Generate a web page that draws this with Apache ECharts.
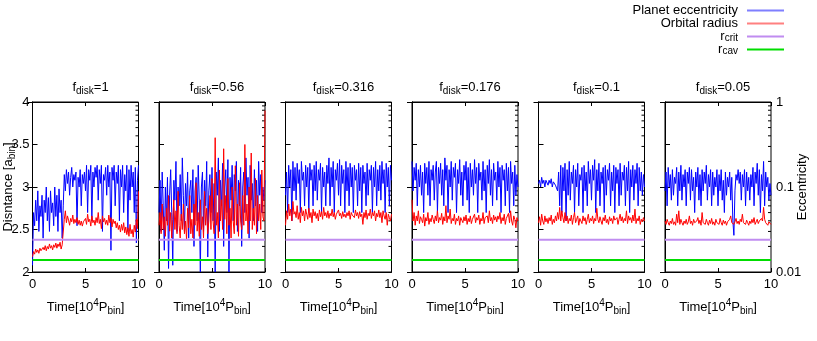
<!DOCTYPE html>
<html>
<head>
<meta charset="utf-8">
<script src="https://cdn.jsdelivr.net/npm/echarts@6/dist/echarts.min.js"></script>
<style>html,body{margin:0;padding:0;background:#fff;}#c{width:817px;height:341px;}</style>
</head>
<body>
<div id="c"></div>
<script>
// ---- data ----
const time = [0,0.1,0.2,0.3,0.4,0.5,0.6,0.7,0.8,0.9,1,1.1,1.2,1.3,1.4,1.5,1.6,1.7,1.8,1.9,2,2.1,2.2,2.3,2.4,2.5,2.6,2.7,2.8,2.9,3,3.1,3.2,3.3,3.4,3.5,3.6,3.7,3.8,3.9,4,4.1,4.2,4.3,4.4,4.5,4.6,4.7,4.8,4.9,5,5.1,5.2,5.3,5.4,5.5,5.6,5.7,5.8,5.9,6,6.1,6.2,6.3,6.4,6.5,6.6,6.7,6.8,6.9,7,7.1,7.2,7.3,7.4,7.5,7.6,7.7,7.8,7.9,8,8.1,8.2,8.3,8.4,8.5,8.6,8.7,8.8,8.9,9,9.1,9.2,9.3,9.4,9.5,9.6,9.7,9.8,9.9,10];
const fdisk = ['1','0.56','0.316','0.176','0.1','0.05'];
const xTicks = [0,5,10];
const rCrit = 2.38;
const rCav = 2.14;
const logMinor = [0.02,0.03,0.04,0.05,0.06,0.07,0.08,0.09,0.2,0.3,0.4,0.5,0.6,0.7,0.8,0.9];

const radius1 = [2.18,2.24,2.21,2.27,2.23,2.26,2.22,2.28,2.25,2.24,
2.29,2.26,2.31,2.25,2.30,2.27,2.33,2.28,2.31,2.26,
2.32,2.29,2.34,2.28,2.33,2.30,2.35,2.27,2.32,2.30,
2.62,2.72,2.58,2.66,2.61,2.55,2.63,2.59,2.67,2.57,
2.62,2.58,2.64,2.56,2.61,2.55,2.60,2.54,2.59,2.57,
2.63,2.56,2.68,2.59,2.62,2.54,2.66,2.58,2.61,2.55,
2.64,2.58,2.70,2.57,2.62,2.51,2.66,2.59,2.63,2.56,
2.61,2.55,2.67,2.58,2.64,2.53,2.62,2.57,2.60,2.52,
2.58,2.50,2.55,2.47,2.56,2.49,2.58,2.46,2.53,2.44,
2.52,2.42,2.56,2.45,2.50,2.41,2.55,2.47,2.62,2.51,2.95];
const ecc1 = [0.012,0.05,0.035,0.07,0.04,0.09,0.03,0.06,0.045,0.08,
0.025,0.07,0.05,0.1,0.04,0.075,0.03,0.09,0.05,0.065,
0.035,0.1,0.045,0.08,0.03,0.095,0.05,0.07,0.025,0.06,
0.14,0.09,0.16,0.11,0.15,0.08,0.13,0.17,0.1,0.14,
0.12,0.15,0.035,0.13,0.1,0.16,0.06,0.14,0.11,0.15,
0.09,0.18,0.05,0.16,0.12,0.18,0.04,0.15,0.1,0.17,
0.13,0.18,0.07,0.16,0.11,0.18,0.03,0.14,0.12,0.17,
0.08,0.18,0.1,0.15,0.018,0.17,0.12,0.18,0.06,0.15,
0.11,0.18,0.04,0.16,0.1,0.18,0.05,0.14,0.09,0.18,
0.03,0.16,0.07,0.18,0.1,0.15,0.05,0.17,0.022,0.12,0.18];

const radius2 = [2.55,2.7,2.45,2.8,2.5,2.65,2.42,2.75,2.55,2.9,
2.48,2.7,2.4,2.62,2.85,2.5,2.72,2.45,2.95,2.55,
2.4,2.68,2.5,2.8,2.45,2.6,2.38,2.75,2.52,2.9,
2.45,2.62,2.4,2.8,2.55,3.05,2.48,2.7,2.42,2.85,
2.5,2.65,2.4,2.95,2.55,2.75,2.45,2.6,2.9,2.5,
3.1,2.6,2.45,3.58,2.55,2.7,2.4,3.2,2.6,2.85,
2.5,3.45,2.62,2.9,2.45,3.1,2.55,2.75,2.4,3.0,
2.6,2.45,3.25,2.55,2.8,2.42,3.05,2.6,2.5,2.9,
2.55,3.5,2.6,2.8,2.45,3.0,2.6,3.4,2.5,2.75,
2.55,3.1,2.45,2.9,2.6,2.8,2.5,3.2,2.65,2.6,3.9];
const ecc2 = [0.05,0.12,0.03,0.15,0.06,0.018,0.1,0.04,0.13,0.011,
0.08,0.16,0.05,0.012,0.12,0.07,0.2,0.03,0.1,0.06,
0.14,0.04,0.22,0.08,0.03,0.11,0.06,0.15,0.025,0.09,
0.12,0.05,0.16,0.02,0.09,0.13,0.04,0.18,0.07,0.01,
0.1,0.15,0.03,0.12,0.06,0.2,0.015,0.09,0.14,0.05,
0.17,0.04,0.11,0.01,0.15,0.08,0.22,0.03,0.12,0.06,
0.19,0.02,0.1,0.16,0.05,0.21,0.01,0.13,0.07,0.18,
0.04,0.14,0.09,0.2,0.03,0.12,0.06,0.17,0.02,0.1,
0.15,0.05,0.22,0.08,0.13,0.025,0.18,0.07,0.11,0.04,
0.16,0.06,0.12,0.03,0.2,0.08,0.14,0.05,0.1,0.07,0.12];

const radius3 = [2.55,2.72,2.62,2.8,2.66,2.74,2.6,2.83,2.68,2.71,
2.64,2.78,2.62,2.7,2.58,2.76,2.66,2.72,2.6,2.74,
2.68,2.62,2.75,2.64,2.7,2.58,2.74,2.66,2.71,2.63,
2.69,2.6,2.73,2.65,2.71,2.62,2.76,2.66,2.7,2.64,
2.72,2.63,2.69,2.66,2.74,2.65,2.7,2.62,2.68,2.67,
2.73,2.66,2.69,2.63,2.71,2.65,2.68,2.64,2.7,2.66,
2.72,2.62,2.7,2.67,2.69,2.64,2.73,2.66,2.7,2.63,
2.71,2.65,2.68,2.56,2.7,2.64,2.73,2.62,2.69,2.66,
2.74,2.63,2.7,2.66,2.72,2.6,2.69,2.65,2.73,2.64,
2.7,2.58,2.72,2.66,2.62,2.7,2.55,2.68,2.64,2.6,2.68];
const ecc3 = [0.08,0.15,0.05,0.18,0.1,0.16,0.04,0.2,0.09,0.17,
0.07,0.19,0.11,0.16,0.05,0.2,0.12,0.15,0.06,0.18,
0.1,0.17,0.05,0.19,0.12,0.16,0.06,0.18,0.09,0.2,
0.07,0.16,0.12,0.19,0.05,0.17,0.1,0.15,0.06,0.18,
0.11,0.22,0.06,0.17,0.1,0.2,0.05,0.16,0.12,0.19,
0.08,0.21,0.06,0.18,0.11,0.16,0.05,0.2,0.09,0.17,
0.06,0.19,0.1,0.17,0.05,0.18,0.12,0.16,0.06,0.19,
0.09,0.17,0.05,0.18,0.11,0.15,0.06,0.19,0.08,0.16,
0.12,0.18,0.05,0.17,0.1,0.2,0.06,0.16,0.09,0.18,
0.07,0.2,0.11,0.16,0.05,0.19,0.1,0.17,0.06,0.18,0.12];

const radius4 = [2.85,2.6,2.7,2.55,2.66,2.6,2.72,2.57,2.65,2.62,
2.58,2.68,2.54,2.64,2.6,2.7,2.56,2.63,2.59,2.67,
2.62,2.57,2.66,2.6,2.72,2.58,2.64,2.61,2.69,2.56,
2.65,2.6,2.78,2.58,2.66,2.62,2.74,2.57,2.63,2.6,
2.68,2.56,2.63,2.6,2.66,2.55,2.64,2.61,2.58,2.65,
2.6,2.67,2.56,2.63,2.59,2.66,2.57,2.62,2.6,2.68,
2.58,2.64,2.61,2.67,2.56,2.63,2.6,2.7,2.57,2.64,
2.62,2.66,2.58,2.72,2.6,2.64,2.57,2.67,2.61,2.65,
2.59,2.66,2.62,2.7,2.57,2.64,2.6,2.68,2.56,2.63,
2.61,2.69,2.58,2.72,2.6,2.55,2.66,2.62,2.52,2.64,2.6];
const ecc4 = [0.2,0.09,0.17,0.12,0.19,0.06,0.16,0.1,0.18,0.08,
0.15,0.05,0.19,0.11,0.17,0.08,0.2,0.06,0.16,0.12,
0.18,0.07,0.15,0.2,0.05,0.17,0.11,0.19,0.08,0.16,
0.06,0.22,0.12,0.18,0.05,0.16,0.1,0.2,0.07,0.17,
0.13,0.19,0.05,0.16,0.11,0.21,0.08,0.15,0.06,0.18,
0.12,0.2,0.07,0.17,0.05,0.19,0.1,0.16,0.08,0.21,
0.11,0.17,0.05,0.19,0.12,0.15,0.07,0.2,0.09,0.16,
0.05,0.18,0.11,0.21,0.08,0.16,0.06,0.19,0.12,0.15,
0.07,0.2,0.1,0.17,0.05,0.18,0.12,0.16,0.06,0.19,
0.09,0.17,0.05,0.2,0.11,0.15,0.06,0.18,0.08,0.14,0.1];

const radius5 = [2.58,2.65,2.55,2.68,2.6,2.56,2.66,2.59,2.63,2.57,
2.64,2.6,2.67,2.56,2.62,2.58,2.66,2.6,2.7,2.62,
2.76,2.6,2.72,2.64,2.58,2.7,2.6,2.66,2.57,2.63,
2.6,2.67,2.56,2.64,2.7,2.58,2.62,2.66,2.55,2.63,
2.61,2.57,2.66,2.6,2.64,2.56,2.62,2.68,2.58,2.63,
2.6,2.66,2.57,2.63,2.6,2.75,2.62,2.58,2.65,2.6,
2.56,2.64,2.6,2.67,2.58,2.62,2.56,2.65,2.6,2.63,
2.57,2.66,2.61,2.59,2.64,2.56,2.62,2.68,2.6,2.65,
2.58,2.63,2.6,2.72,2.57,2.66,2.61,2.64,2.58,2.67,
2.6,2.74,2.57,2.63,2.6,2.66,2.56,2.62,2.59,2.64,2.6];
const ecc5 = [0.11,0.12,0.1,0.13,0.11,0.12,0.1,0.12,0.115,0.105,
0.12,0.11,0.125,0.1,0.115,0.12,0.105,0.1,0.09,0.15,
0.06,0.18,0.05,0.17,0.09,0.19,0.04,0.16,0.08,0.2,
0.07,0.15,0.11,0.18,0.05,0.16,0.1,0.19,0.06,0.14,
0.12,0.17,0.05,0.18,0.09,0.15,0.06,0.2,0.11,0.16,
0.07,0.18,0.12,0.21,0.05,0.16,0.09,0.19,0.06,0.15,
0.11,0.17,0.05,0.18,0.08,0.16,0.12,0.19,0.06,0.15,
0.09,0.18,0.05,0.17,0.11,0.16,0.06,0.19,0.08,0.15,
0.12,0.18,0.06,0.17,0.09,0.2,0.05,0.16,0.1,0.18,
0.07,0.16,0.11,0.19,0.06,0.17,0.09,0.15,0.08,0.14,0.1];

const radius6 = [2.6,2.56,2.62,2.58,2.55,2.6,2.57,2.63,2.56,2.59,
2.55,2.68,2.58,2.72,2.56,2.62,2.58,2.55,2.6,2.57,
2.62,2.56,2.59,2.66,2.57,2.6,2.55,2.62,2.58,2.56,
2.6,2.64,2.57,2.61,2.55,2.7,2.58,2.6,2.56,2.62,
2.58,2.55,2.61,2.57,2.63,2.56,2.59,2.55,2.62,2.58,
2.6,2.56,2.63,2.58,2.55,2.61,2.57,2.6,2.55,2.59,
2.57,2.62,2.66,2.58,2.6,2.56,2.59,2.63,2.57,2.6,
2.56,2.62,2.59,2.68,2.58,2.6,2.56,2.61,2.58,2.55,
2.6,2.57,2.62,2.58,2.64,2.56,2.59,2.62,2.57,2.6,
2.58,2.63,2.6,2.76,2.62,2.58,2.6,2.55,2.59,2.57,2.56];
const ecc6 = [0.09,0.15,0.06,0.17,0.1,0.14,0.07,0.16,0.08,0.13,
0.11,0.17,0.06,0.15,0.09,0.18,0.07,0.14,0.1,0.16,
0.06,0.15,0.11,0.17,0.07,0.16,0.09,0.13,0.05,0.15,
0.1,0.17,0.07,0.14,0.06,0.16,0.09,0.15,0.11,0.18,
0.07,0.14,0.1,0.16,0.06,0.15,0.08,0.13,0.1,0.16,
0.06,0.14,0.09,0.16,0.07,0.12,0.05,0.15,0.08,0.13,
0.1,0.15,0.07,0.13,0.04,0.027,0.09,0.14,0.12,0.16,
0.11,0.15,0.07,0.14,0.1,0.16,0.06,0.15,0.09,0.13,
0.07,0.14,0.1,0.17,0.06,0.15,0.11,0.19,0.08,0.16,
0.05,0.14,0.09,0.2,0.06,0.15,0.1,0.13,0.07,0.11,0.08];

const radii = [radius1,radius2,radius3,radius4,radius5,radius6];
const eccs = [ecc1,ecc2,ecc3,ecc4,ecc5,ecc6];

// ---- layout / style ----
const FONT = '"Liberation Sans", Arial, Helvetica, sans-serif';
const NAMES = ['Planet eccentricity','Orbital radius','r_crit','r_cav'];
const COLORS = {blue:'#0000ff', red:'#ff0000', purple:'#c08cf0', green:'#00dd00'};
const P_LEFT = 32.5, P_STEP = 126.5, P_W = 106, P_TOP = 102, P_H = 170;

const richMain = {
  a: {fontSize: 13, fontFamily: FONT, fontWeight: 'normal', color: '#000', lineHeight: 18},
  sub: {fontSize: 10, fontFamily: FONT, fontWeight: 'normal', color: '#000', lineHeight: 9, verticalAlign: 'bottom'},
  sup: {fontSize: 10, fontFamily: FONT, fontWeight: 'normal', color: '#000', lineHeight: 9, verticalAlign: 'top'}
};

const grids = [], xAxes = [], yAxes = [], titles = [], series = [];
for (let i = 0; i < 6; i++) {
  const left = P_LEFT + P_STEP * i;
  grids.push({left: left, top: P_TOP, width: P_W, height: P_H, show: true, containLabel: false,
    outerBoundsMode: 'none',
    borderColor: '#000', borderWidth: 1, backgroundColor: 'transparent'});
  titles.push({
    text: '{a|f}{sub|disk}{a|=' + fdisk[i] + '}',
    left: left + P_W / 2, top: 73, textAlign: 'center',
    textStyle: {fontWeight: 'normal', rich: richMain}
  });
}
for (let i = 0; i < 6; i++) {
  xAxes.push({
    gridIndex: i, type: 'value', min: xTicks[0], max: xTicks[2], interval: 5, position: 'bottom',
    axisLine: {show: true, lineStyle: {color: '#000', width: 1}},
    axisTick: {show: true, inside: true, length: 4, lineStyle: {color: '#000'}},
    axisLabel: {show: true, color: '#000', fontSize: 13, fontFamily: FONT, margin: 6,
      formatter: v => xTicks.indexOf(v) >= 0 ? String(v) : ''},
    splitLine: {show: false},
    name: '{a|Time[10}{sup|4}{a|P}{sub|bin}{a|]}', nameLocation: 'middle', nameGap: 26,
    nameMoveOverlap: false,
    nameTextStyle: {rich: richMain}
  });
}
for (let i = 0; i < 6; i++) {
  xAxes.push({
    gridIndex: i, type: 'value', min: 0, max: 10, interval: 5, position: 'top',
    axisLine: {show: true, lineStyle: {color: '#000', width: 1}},
    axisTick: {show: true, inside: true, length: 4, lineStyle: {color: '#000'}},
    axisLabel: {show: false}, splitLine: {show: false}
  });
}
for (let i = 0; i < 6; i++) {
  yAxes.push({
    gridIndex: i, type: 'value', min: 2, max: 4, interval: 0.5, position: 'left',
    axisLine: {show: true, lineStyle: {color: '#000', width: 1}},
    axisTick: {show: true, inside: true, length: 5, lineStyle: {color: '#000'}},
    axisLabel: {show: i === 0, color: '#000', fontSize: 13, fontFamily: FONT, margin: 3},
    splitLine: {show: false},
    name: i === 0 ? '{a|Disntance [a}{sub|bin}{a|]}' : '', nameLocation: 'middle', nameGap: 15,
    nameMoveOverlap: false,
    nameTextStyle: {rich: richMain}
  });
  yAxes.push({
    gridIndex: i, type: 'log', logBase: 10, min: 0.01, max: 1, position: 'right',
    axisLine: {show: true, lineStyle: {color: '#000', width: 1}},
    axisTick: {show: true, inside: true, length: 5, lineStyle: {color: '#000'}},
    axisLabel: {show: i === 5, color: '#000', fontSize: 13, fontFamily: FONT, margin: 5},
    splitLine: {show: false},
    name: i === 5 ? 'Eccentricity' : '', nameLocation: 'middle', nameGap: 25,
    nameMoveOverlap: false,
    nameTextStyle: {color: '#000', fontSize: 13, fontFamily: FONT}
  });
}
for (let i = 0; i < 6; i++) {
  const base = {type: 'line', xAxisIndex: i, symbol: 'none', showSymbol: false, silent: true, animation: false, clip: true};
  series.push(Object.assign({}, base, {
    name: NAMES[0], yAxisIndex: 2 * i + 1,
    data: time.map((t, k) => [t, eccs[i][k]]),
    lineStyle: {color: COLORS.blue, width: 1}, itemStyle: {color: COLORS.blue}
  }));
  series.push(Object.assign({}, base, {
    name: NAMES[1], yAxisIndex: 2 * i,
    data: time.map((t, k) => [t, radii[i][k]]),
    lineStyle: {color: COLORS.red, width: 1}, itemStyle: {color: COLORS.red}
  }));
  series.push(Object.assign({}, base, {
    name: NAMES[2], yAxisIndex: 2 * i,
    data: [[time[0], rCrit], [time[time.length - 1], rCrit]],
    lineStyle: {color: COLORS.purple, width: 2}, itemStyle: {color: COLORS.purple}
  }));
  series.push(Object.assign({}, base, {
    name: NAMES[3], yAxisIndex: 2 * i,
    data: [[time[0], rCav], [time[time.length - 1], rCav]],
    lineStyle: {color: COLORS.green, width: 2}, itemStyle: {color: COLORS.green}
  }));
  series.push({
    type: 'custom', xAxisIndex: i, yAxisIndex: 2 * i + 1, silent: true, animation: false,
    data: logMinor.map(v => [10, v]),
    renderItem: function (params, api) {
      const p = api.coord([api.value(0), api.value(1)]);
      return {type: 'line', shape: {x1: p[0] - 3, y1: p[1], x2: p[0], y2: p[1]},
        style: {stroke: '#000', lineWidth: 1}};
    }
  });
}

const legendRich = {
  t: {fontSize: 13, fontFamily: FONT, color: '#000', lineHeight: 13},
  s: {fontSize: 10, fontFamily: FONT, color: '#000', lineHeight: 7, verticalAlign: 'bottom'}
};
const chart = echarts.init(document.getElementById('c'), null, {renderer: 'canvas'});
chart.setOption({
  animation: false,
  backgroundColor: '#fff',
  title: titles,
  legend: {
    orient: 'vertical', right: 33, top: 4, padding: 0, align: 'right', itemWidth: 37, itemHeight: 2, itemGap: 0,
    selectedMode: false,
    data: [
      {name: NAMES[0], icon: 'rect', itemStyle: {color: '#7f7fff'}},
      {name: NAMES[1], icon: 'rect', itemStyle: {color: '#ff8080'}},
      {name: NAMES[2], icon: 'rect', itemStyle: {color: COLORS.purple}},
      {name: NAMES[3], icon: 'rect', itemStyle: {color: COLORS.green}}
    ],
    formatter: function (name) {
      if (name === 'r_crit') return '{t|r}{s|crit}';
      if (name === 'r_cav') return '{t|r}{s|cav}';
      return '{t|' + name + '}';
    },
    textStyle: {fontSize: 13, fontFamily: FONT, color: '#000', padding: [0, 4, 0, 0], rich: legendRich}
  },
  grid: grids,
  xAxis: xAxes,
  yAxis: yAxes,
  series: series
});
</script>
</body>
</html>
